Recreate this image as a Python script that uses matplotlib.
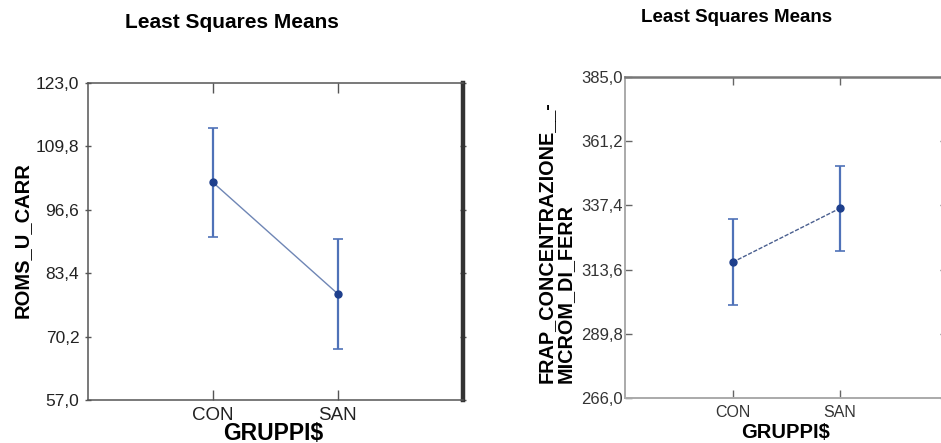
import matplotlib
matplotlib.use('Agg')
from matplotlib import pyplot as plt

plt.rcParams['font.family'] = ['Liberation Sans', 'DejaVu Sans']

groups = ['CON', 'SAN']
title = 'Least Squares Means'
xlabel = 'GRUPPI$'

# left panel
roms_mean = [102.3, 79.1]
roms_err = [11.3, 11.4]
roms_ticks = [57.0, 70.2, 83.4, 96.6, 109.8, 123.0]
roms_ticklabels = ['57,0', '70,2', '83,4', '96,6', '109,8', '123,0']
roms_ylabel = 'ROMS_U_CARR'

# right panel
frap_mean = [316.3, 336.3]
frap_err = [15.9, 15.9]
frap_ticks = [266.0, 289.8, 313.6, 337.4, 361.2, 385.0]
frap_ticklabels = ['266,0', '289,8', '313,6', '337,4', '361,2', '385,0']
frap_ylabel = 'FRAP_CONCENTRAZIONE__-\nMICROM_DI_FERR'

W, H = 941, 443
fig = plt.figure(figsize=(W / 100, H / 100), dpi=100)

def px(x0, y0, x1, y1):
    # pixel box (top-left origin) -> figure fraction rect
    return [x0 / W, 1 - y1 / H, (x1 - x0) / W, (y1 - y0) / H]

xpos = [1, 2]
line_c = '#4f72b8'
dot_c = '#1e3f8c'

# ---- left
ax1 = fig.add_axes(px(87.7, 82.7, 462.7, 400))
ax1.plot(xpos, roms_mean, color='#6f86b5', lw=1.0, zorder=2)
ax1.errorbar(xpos, roms_mean, yerr=roms_err, fmt='o', color=line_c, ecolor=line_c,
             elinewidth=1.6, capsize=3.5, capthick=1.2, ms=5, mfc=dot_c, mec=dot_c, zorder=3)
ax1.set_xlim(0, 3)
ax1.set_ylim(57, 123)
ax1.set_yticks(roms_ticks)
ax1.set_yticklabels(roms_ticklabels)
ax1.set_xticks(xpos)
ax1.set_xticklabels(groups)
for s in ['left', 'bottom', 'top']:
    ax1.spines[s].set_color('#555555')
    ax1.spines[s].set_linewidth(1.1)
ax1.spines['right'].set_color('#333333')
ax1.spines['right'].set_linewidth(3.2)
ax1.tick_params(axis='y', which='both', left=True, right=True, direction='out', length=4, width=1,
                color='#555555', labelsize=12.5, labelcolor='#222222', pad=4)
ax1.tick_params(axis='y', right=True)
ax1.yaxis.set_tick_params(which='major', direction='inout')
ax1.tick_params(axis='x', top=True, bottom=True, direction='in', length=7, width=1,
                color='#555555', labelsize=13.5, labelcolor='#222222', pad=5)
fig.text(232 / W, 1 - 23 / H, title, ha='center', va='center', fontsize=15, fontweight='bold')
fig.text(22 / W, 1 - 240 / H, roms_ylabel, rotation=90, ha='center', va='center',
         fontsize=14.5, fontweight='bold')
fig.text(273 / W, 1 - 433 / H, xlabel, ha='center', va='center', fontsize=16.5, fontweight='bold')

# ---- right
ax2 = fig.add_axes(px(625.3, 77.3, 947, 397.7))
ax2.plot(xpos, frap_mean, color='#4a5f8f', lw=1.0, ls=(0, (3, 1.2)), zorder=2)
ax2.errorbar(xpos, frap_mean, yerr=frap_err, fmt='o', color=line_c, ecolor=line_c,
             elinewidth=1.6, capsize=3.5, capthick=1.2, ms=5, mfc=dot_c, mec=dot_c, zorder=3)
ax2.set_xlim(0, 3)
ax2.set_ylim(266, 385)
ax2.set_yticks(frap_ticks)
ax2.set_yticklabels(frap_ticklabels)
ax2.set_xticks(xpos)
ax2.set_xticklabels(groups)
for s in ['left', 'bottom', 'right']:
    ax2.spines[s].set_color('#aaaaaa')
    ax2.spines[s].set_linewidth(1.4)
ax2.spines['top'].set_color('#777777')
ax2.spines['top'].set_linewidth(1.8)
ax2.tick_params(axis='y', left=True, right=True, direction='in', length=5, width=1,
                color='#666666', labelsize=12, labelcolor='#333333', pad=2)
ax2.tick_params(axis='x', top=True, bottom=True, direction='in', length=6, width=1,
                color='#666666', labelsize=11.5, labelcolor='#333333', pad=5)
fig.text(737 / W, 1 - 17 / H, title, ha='center', va='center', fontsize=13.5, fontweight='bold')
fig.text(556 / W, 1 - 383 / H, frap_ylabel, rotation=90, ha='center', va='bottom',
         multialignment='left', fontsize=14.3, fontweight='bold', linespacing=1.0)
fig.text(786 / W, 1 - 433 / H, xlabel, ha='center', va='center', fontsize=14.5, fontweight='bold')

fig.savefig('out.png', dpi=100)
